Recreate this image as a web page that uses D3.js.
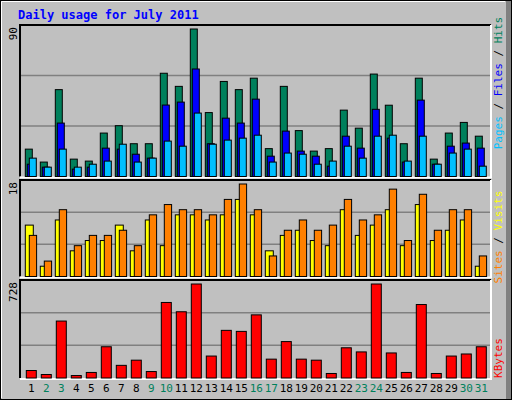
<!DOCTYPE html>
<html><head><meta charset="utf-8">
<script src="https://cdn.jsdelivr.net/npm/d3@7"></script>
<style>body{margin:0;background:#fff}svg{display:block}text{font-family:"DejaVu Sans Mono",monospace}</style>
</head><body><svg width="512" height="400"></svg>
<script>
const days = d3.range(1, 32);
const weekend = [2, 3, 9, 10, 16, 17, 23, 24, 30, 31];
const hits = [16.7, 8.8, 53, 10.6, 9.4, 26.5, 31, 20, 20, 63, 55, 90, 39, 58, 53, 60, 17, 55, 28, 15.5, 17, 40.5, 29.5, 62.5, 43.5, 20, 60, 10.6, 26.5, 33, 24.6];
const files = [7.5, 5.7, 32.6, 4.5, 5.7, 17.3, 16.7, 13.6, 11.2, 43.6, 45.4, 65.6, 20, 35.6, 32.6, 47.2, 12.4, 27.7, 15.5, 12.4, 6.3, 24.6, 17.3, 41, 23.4, 8.8, 46.6, 7.5, 18.5, 20.4, 17.3];
const pages = [11.2, 5.7, 16.7, 5.7, 7.5, 9.4, 19.7, 8.8, 11.2, 21.6, 18.5, 38.7, 19.7, 22.2, 23.4, 25.2, 8.8, 14.3, 13.6, 7.5, 9.4, 18.5, 11.2, 24.6, 25.2, 9.4, 24.6, 7.5, 14.3, 16.7, 6.3];
const visits = [8, 3, 13, 6, 8, 8, 9, 6, 12, 14, 13, 13, 12, 15, 18, 13, 4, 9, 11, 9, 10, 15, 11, 12, 17, 7, 16, 9, 13, 13, 4];
const sites = [10, 2, 11, 5, 7, 7, 10, 5, 11, 6, 12, 12, 11, 12, 15, 12, 5, 8, 9, 7, 6, 13, 8, 10, 13, 6, 14, 7, 9, 11, 2];
const kbytes = [58, 27, 441, 19, 43, 242, 98, 138, 50, 585, 513, 728, 170, 369, 361, 489, 146, 282, 146, 138, 35, 234, 202, 728, 194, 43, 569, 35, 170, 186, 242];

const svg = d3.select("svg");
// background and bevel
svg.append("rect").attr("width", 512).attr("height", 400).attr("fill", "#c0c0c0");
svg.append("rect").attr("x", 506).attr("width", 6).attr("height", 400).attr("fill", "#808080");
svg.append("rect").attr("x", 0.5).attr("y", 0.5).attr("width", 511).attr("height", 399).attr("fill", "none").attr("stroke", "#000");
svg.append("path").attr("d", "M1.5,398V1.5H505").attr("stroke", "#fff").attr("fill", "none");

svg.append("text").attr("x", 18).attr("y", 19).attr("fill", "#0000ff")
  .attr("font-weight", "bold").attr("font-size", 12).text("Daily usage for July 2011");

const x = d3.scaleLinear().domain([1, 31]).range([25.3, 475.3]);

function panel(top, bottom, max, label) {
  svg.append("rect").attr("x", 20).attr("y", top).attr("width", 471).attr("height", bottom - top).attr("fill", "#c0c0c0");
  const h = bottom - top;
  [1 / 3, 2 / 3].forEach(f => svg.append("line").attr("x1", 21).attr("x2", 490)
    .attr("y1", bottom - h * f).attr("y2", bottom - h * f).attr("stroke", "#808080").attr("stroke-width", 1.5));
  svg.append("path").attr("d", `M20,${bottom}V${top}H491`).attr("stroke", "#000").attr("stroke-width", 2).attr("fill", "none");
  svg.append("path").attr("d", `M20,${bottom + 1}H491V${top}`).attr("stroke", "#fff").attr("stroke-width", 2).attr("fill", "none");
  svg.append("text").attr("transform", `translate(17,${top + 2}) rotate(-90)`).attr("text-anchor", "end")
    .attr("font-size", 11).text(label);
  return d3.scaleLinear().domain([0, max]).range([bottom, top + 4]);
}

function bars(y, data, dx, w, color) {
  svg.append("g").selectAll("rect").data(data).join("rect")
    .attr("x", (d, i) => x(days[i]) + dx).attr("width", w)
    .attr("y", d => y(d)).attr("height", d => y(0) - y(d))
    .attr("fill", color).attr("stroke", "#000").attr("stroke-width", 1);
}

const y1 = panel(25, 176.5, 90, "90");
bars(y1, hits, 0, 7, "#00805c");
bars(y1, files, 2, 7, "#0000ff");
bars(y1, pages, 4, 7, "#00c0ff");

const y2 = panel(180, 276.5, 18, "18");
bars(y2, sites, 0, 8, "#ffff00");
bars(y2, visits, 4, 7.3, "#ff8000");

const y3 = panel(280, 378, 728, "728");
bars(y3, kbytes, 1, 10, "#ff0000");

svg.append("g").selectAll("text").data(days).join("text")
  .attr("x", d => x(d) + 6).attr("y", 392).attr("text-anchor", "middle").attr("font-size", 11)
  .attr("fill", d => weekend.includes(d) ? "#00805c" : "#000").text(d => d);

function sideLabel(cy, parts) {
  const t = svg.append("text").attr("transform", `translate(502,${cy}) rotate(-90)`)
    .attr("text-anchor", "middle").attr("font-size", 11);
  parts.forEach(([s, c]) => t.append("tspan").attr("fill", c).text(s));
}
sideLabel(83, [["Pages", "#00c0ff"], [" / ", "#000"], ["Files", "#0000ff"], [" / ", "#000"], ["Hits", "#00805c"]]);
sideLabel(237, [["Sites", "#ff8000"], [" / ", "#000"], ["Visits", "#ffff00"]]);
sideLabel(358, [["KBytes", "#ff0000"]]);
</script></body></html>
